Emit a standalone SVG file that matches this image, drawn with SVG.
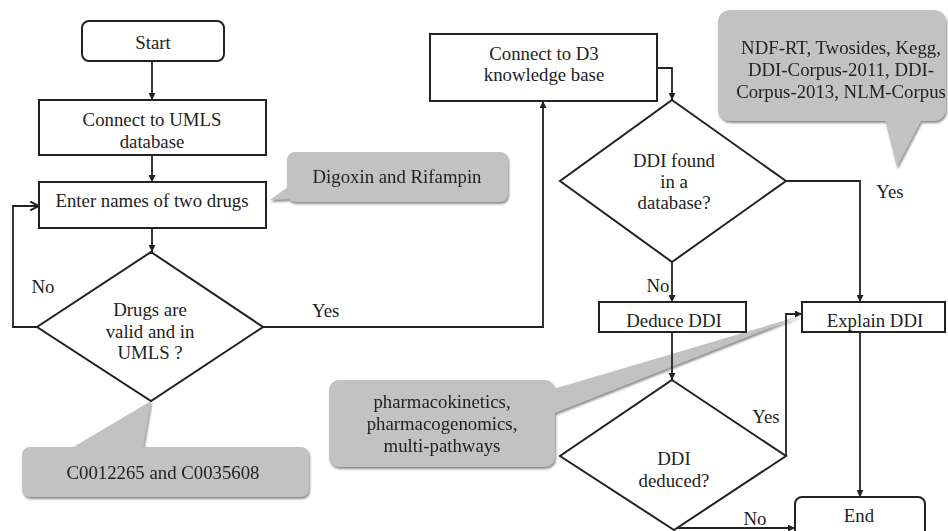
<svg xmlns="http://www.w3.org/2000/svg" width="948" height="531" viewBox="0 0 948 531">
  <defs>
    <style>
      .box { fill: #ffffff; stroke: #222222; stroke-width: 2; }
      .dia { fill: #ffffff; stroke: #222222; stroke-width: 2; }
      .edge { fill: none; stroke: #222222; stroke-width: 1.8; }
      .lbl { font-family: "Liberation Serif", "Times New Roman", serif; font-size: 18.8px; fill: #222222; }
      .c { text-anchor: middle; }
      .note { fill: #c2c2c2; }
    </style>
    <marker id="arr" viewBox="0 0 10 10" refX="10" refY="5" markerWidth="7" markerHeight="7" markerUnits="userSpaceOnUse" orient="auto">
      <path d="M0,0 L10,5 L0,10 Z" fill="#222222"/>
    </marker>
    <marker id="open" viewBox="0 0 10 10" refX="9" refY="5" markerWidth="11" markerHeight="11" markerUnits="userSpaceOnUse" orient="auto">
      <path d="M1,1 L9,5 L1,9" fill="none" stroke="#222222" stroke-width="1.8"/>
    </marker>
    <filter id="shadow" x="-10%" y="-10%" width="120%" height="130%">
      <feDropShadow dx="1" dy="2" stdDeviation="1.2" flood-color="#6e6e6e" flood-opacity="0.8"/>
    </filter>
  </defs>

  <rect width="948" height="531" fill="#ffffff"/>

  <!-- callouts -->
  <g id="note-drugs" filter="url(#shadow)">
    <rect class="note" x="287" y="152" width="221" height="50" rx="8"/>
    <polygon class="note" points="270,200 292,184 292,199"/>
    <text class="lbl c" x="397" y="183">Digoxin and Rifampin</text>
  </g>
  <g id="note-cui" filter="url(#shadow)">
    <rect class="note" x="22" y="447" width="287" height="50" rx="8"/>
    <polygon class="note" points="151,401 70,449 143,449"/>
    <text class="lbl c" x="163" y="479">C0012265 and C0035608</text>
  </g>
  <g id="note-sources" filter="url(#shadow)">
    <rect class="note" x="718" y="10" width="228" height="111" rx="12"/>
    <polygon class="note" points="885,119 922,119 897,167"/>
    <text class="lbl c" x="841" y="54">NDF-RT, Twosides, Kegg,</text>
    <text class="lbl c" x="841" y="76">DDI-Corpus-2011, DDI-</text>
    <text class="lbl c" x="841" y="98">Corpus-2013, NLM-Corpus</text>
  </g>
  <g id="note-methods" filter="url(#shadow)">
    <rect class="note" x="329" y="380" width="226" height="87" rx="10"/>
    <polygon class="note" points="550,390 800,316 550,415"/>
    <text class="lbl c" x="442" y="408">pharmacokinetics,</text>
    <text class="lbl c" x="442" y="430">pharmacogenomics,</text>
    <text class="lbl c" x="442" y="452">multi-pathways</text>
  </g>

  <!-- connectors -->
  <g id="connectors">
    <path class="edge" d="M152,61 V100" marker-end="url(#arr)"/>
    <path class="edge" d="M152,155 V182" marker-end="url(#arr)"/>
    <path class="edge" d="M152,228 V252" marker-end="url(#arr)"/>
    <path class="edge" d="M37,327 H13 V206 H39" marker-end="url(#open)"/>
    <path class="edge" d="M263,327 H543 V101" marker-end="url(#arr)"/>
    <path class="edge" d="M657,68 H672 V100" marker-end="url(#arr)"/>
    <path class="edge" d="M786,181 H860 V302" marker-end="url(#arr)"/>
    <path class="edge" d="M672,262 V302" marker-end="url(#arr)"/>
    <path class="edge" d="M672,332 V380" marker-end="url(#arr)"/>
    <path class="edge" d="M786,456 V314 H802" marker-end="url(#arr)"/>
    <path class="edge" d="M674,528 H795" marker-end="url(#arr)"/>
    <path class="edge" d="M860,332 V497" marker-end="url(#arr)"/>
    <text class="lbl c" x="43" y="293">No</text>
    <text class="lbl" x="312" y="317">Yes</text>
    <text class="lbl c" x="890" y="198">Yes</text>
    <text class="lbl c" x="658" y="292">No</text>
    <text class="lbl c" x="766" y="423">Yes</text>
    <text class="lbl c" x="755" y="525">No</text>
  </g>

  <!-- nodes -->
  <g id="start">
    <rect class="box" x="82" y="21" width="142" height="40" rx="7"/>
    <text class="lbl c" x="153" y="49">Start</text>
  </g>
  <g id="connect-umls">
    <rect class="box" x="39" y="100" width="227" height="55"/>
    <text class="lbl c" x="152" y="126">Connect to UMLS</text>
    <text class="lbl c" x="152" y="148">database</text>
  </g>
  <g id="enter-drugs">
    <rect class="box" x="39" y="182" width="227" height="46"/>
    <text class="lbl c" x="152" y="207">Enter names of two drugs</text>
  </g>
  <g id="valid-drugs">
    <polygon class="dia" points="151,252 263,327 151,401 37,327"/>
    <text class="lbl c" x="150" y="316">Drugs are</text>
    <text class="lbl c" x="150" y="338">valid and in</text>
    <text class="lbl c" x="150" y="359">UMLS ?</text>
  </g>
  <g id="connect-d3">
    <rect class="box" x="430" y="34" width="227" height="67"/>
    <text class="lbl c" x="544" y="60">Connect to D3</text>
    <text class="lbl c" x="544" y="81">knowledge base</text>
  </g>
  <g id="ddi-found">
    <polygon class="dia" points="672,100 786,181 672,262 560,181"/>
    <text class="lbl c" x="674" y="167">DDI found</text>
    <text class="lbl c" x="674" y="188">in a</text>
    <text class="lbl c" x="674" y="209">database?</text>
  </g>
  <g id="deduce-ddi">
    <rect class="box" x="599" y="302" width="147" height="30"/>
    <text class="lbl c" x="674" y="327">Deduce DDI</text>
  </g>
  <g id="explain-ddi">
    <rect class="box" x="802" y="302" width="143" height="30"/>
    <text class="lbl c" x="875" y="327">Explain DDI</text>
  </g>
  <g id="ddi-deduced">
    <polygon class="dia" points="672,380 786,456 674,530 560,456"/>
    <text class="lbl c" x="674" y="465">DDI</text>
    <text class="lbl c" x="674" y="487">deduced?</text>
  </g>
  <g id="end">
    <rect class="box" x="795" y="497" width="130" height="50" rx="7"/>
    <text class="lbl c" x="859" y="522">End</text>
  </g>
</svg>
